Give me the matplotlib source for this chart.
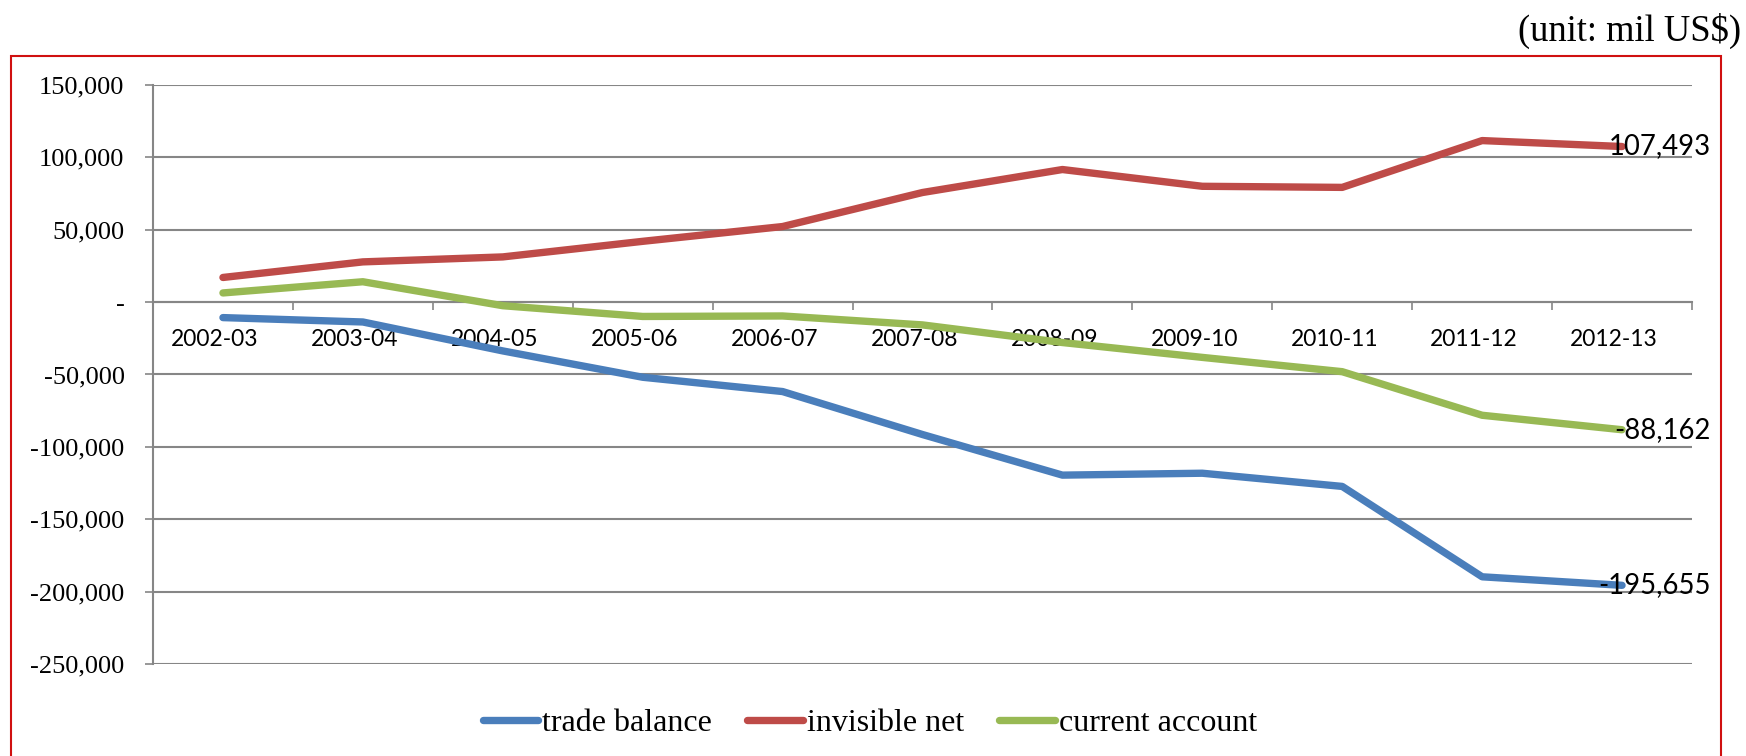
import matplotlib
matplotlib.use("Agg")
import matplotlib.pyplot as plt
import matplotlib.transforms as mtransforms
from matplotlib.patches import Rectangle
from matplotlib.ticker import FuncFormatter, FixedLocator

# India balance of payments, US$ million
years = ["2002-03", "2003-04", "2004-05", "2005-06", "2006-07", "2007-08",
         "2008-09", "2009-10", "2010-11", "2011-12", "2012-13"]
trade_balance = [-10690, -13718, -33702, -51904, -61782, -91467,
                 -119519, -118203, -127322, -189759, -195655]
invisible_net = [17035, 27801, 31232, 42002, 52217, 75731,
                 91605, 80022, 79269, 111604, 107493]
current_account = [6345, 14083, -2470, -9902, -9565, -15737,
                   -27914, -38181, -48053, -78155, -88162]

series_names = ["trade balance", "invisible net", "current account"]
series_colors = ["#4A7EBB", "#BE4B48", "#98B954"]

W, H, DPI = 1746, 756, 100
fig = plt.figure(figsize=(W / DPI, H / DPI), dpi=DPI)

SERIF = "Liberation Serif"
SANS = "Lato"
GRID = "#868686"

left, right, top, bottom = 153, 1692, 85, 664
ax = fig.add_axes([left / W, 1 - bottom / H, (right - left) / W, (bottom - top) / H])

x = list(range(len(years)))
for vals, name, col in zip([trade_balance, invisible_net, current_account],
                           series_names, series_colors):
    ax.plot(x, vals, color=col, lw=5.3, label=name,
            solid_capstyle="round", solid_joinstyle="round", zorder=3)

ax.set_xlim(-0.5, len(years) - 0.5)
ax.set_ylim(-250000, 150000)
ax.set_yticks(range(-250000, 150001, 50000))
ax.yaxis.set_major_formatter(FuncFormatter(lambda v, p: "-" if v == 0 else f"{int(v):,}"))
ax.grid(axis="y", color=GRID, lw=1.5, zorder=1)
ax.grid(axis="x", visible=False)

for s in ["top", "right"]:
    ax.spines[s].set_visible(False)
ax.spines["left"].set_color(GRID)
ax.spines["left"].set_linewidth(1.5)
ax.spines["bottom"].set_position(("data", 0))
ax.spines["bottom"].set_color(GRID)
ax.spines["bottom"].set_linewidth(1.5)

ax.tick_params(axis="y", length=5.5, width=1.2, color=GRID, pad=15,
               labelsize=19, labelfontfamily=SERIF, direction="out")
ax.set_xticks(x)
ax.set_xticklabels(years)
ax.xaxis.set_minor_locator(FixedLocator([i - 0.5 for i in range(len(years) + 1)]))
ax.tick_params(axis="x", which="major", length=0, pad=19,
               labelsize=16.4, labelfontfamily=SANS)
ax.tick_params(axis="x", which="minor", length=6, width=1.2, color=GRID, direction="out")

# category labels sit slightly left of the category centres
shift = mtransforms.ScaledTranslation(-8 / DPI, 0, fig.dpi_scale_trans)
for lbl in ax.get_xticklabels():
    lbl.set_transform(lbl.get_transform() + shift)

# value labels at the last year
for vals in [invisible_net, current_account, trade_balance]:
    v = vals[-1]
    ax.annotate(f"{v:,}", xy=(x[-1], v), xytext=(89, 0), textcoords="offset pixels",
                ha="right", va="center", fontsize=19.8, family=SANS, zorder=4)

fig.legend(loc="center", bbox_to_anchor=(870 / W, 1 - 723 / H), ncol=3,
           frameon=False, prop={"family": SERIF, "size": 23},
           handlelength=1.75, handletextpad=0.12, columnspacing=1.1)

fig.text(1741 / W, 1 - 41 / H, "(unit: mil US$)", ha="right", va="baseline",
         fontsize=26.3, family=SERIF)

fig.patches.append(Rectangle((11 / W, -0.05), (1721 - 11) / W, 1.05 - 56 / H,
                             transform=fig.transFigure, fill=False,
                             edgecolor="#D01010", lw=1.5))

fig.savefig("out.png", dpi=DPI, facecolor="white")
